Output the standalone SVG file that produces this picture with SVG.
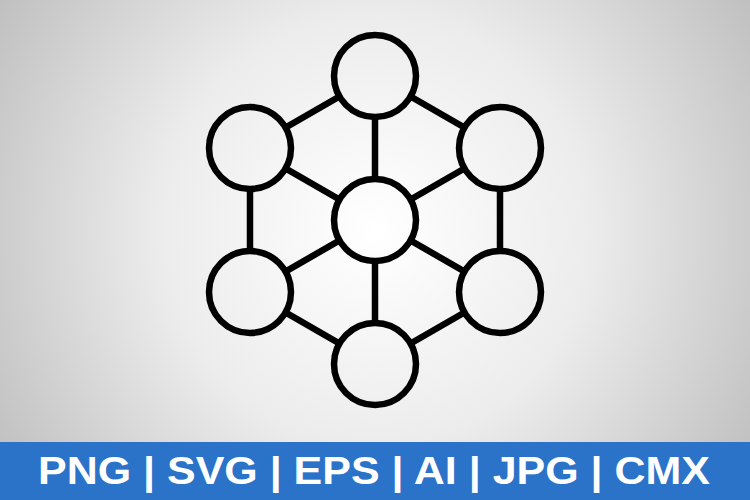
<svg xmlns="http://www.w3.org/2000/svg" width="750" height="500" viewBox="0 0 750 500">
<defs>
<radialGradient id="bg" cx="375" cy="230" r="480" gradientUnits="userSpaceOnUse">
<stop offset="0" stop-color="#ffffff"/>
<stop offset="0.45" stop-color="#ececec"/>
<stop offset="1" stop-color="#b8b8b8"/>
</radialGradient>
<style>
.node{fill:url(#bg);stroke:#000;stroke-width:6.5}
.edge{stroke:#000;stroke-width:6.5;fill:none}
.lbl{font-family:"Liberation Sans",Arial,sans-serif;font-weight:bold;font-size:39px;fill:#fff}
</style>
</defs>
<rect width="750" height="500" fill="url(#bg)"/>
<g id="connectors">
<line class="edge" x1="375" y1="76" x2="250" y2="148"/>
<line class="edge" x1="375" y1="76" x2="500" y2="148"/>
<line class="edge" x1="375" y1="117" x2="375" y2="179"/>
<line class="edge" x1="250" y1="148" x2="375" y2="220"/>
<line class="edge" x1="500" y1="148" x2="375" y2="220"/>
<line class="edge" x1="250" y1="189" x2="250" y2="251"/>
<line class="edge" x1="500" y1="189" x2="500" y2="251"/>
<line class="edge" x1="375" y1="220" x2="250" y2="292"/>
<line class="edge" x1="375" y1="220" x2="500" y2="292"/>
<line class="edge" x1="375" y1="261" x2="375" y2="323"/>
<line class="edge" x1="250" y1="292" x2="375" y2="364"/>
<line class="edge" x1="500" y1="292" x2="375" y2="364"/>
</g>
<g id="node-top"><circle class="node" cx="375" cy="76" r="41"/></g>
<g id="node-upper-left"><circle class="node" cx="250" cy="148" r="41"/></g>
<g id="node-upper-right"><circle class="node" cx="500" cy="148" r="41"/></g>
<g id="node-center"><circle class="node" cx="375" cy="220" r="41"/></g>
<g id="node-lower-left"><circle class="node" cx="250" cy="292" r="41"/></g>
<g id="node-lower-right"><circle class="node" cx="500" cy="292" r="41"/></g>
<g id="node-bottom"><circle class="node" cx="375" cy="364" r="41"/></g>
<rect x="0" y="442" width="750" height="58" fill="#2a73c8"/>
<text class="lbl" x="374" y="483.5" text-anchor="middle" textLength="672" lengthAdjust="spacingAndGlyphs">PNG | SVG | EPS | AI | JPG | CMX</text>
</svg>
